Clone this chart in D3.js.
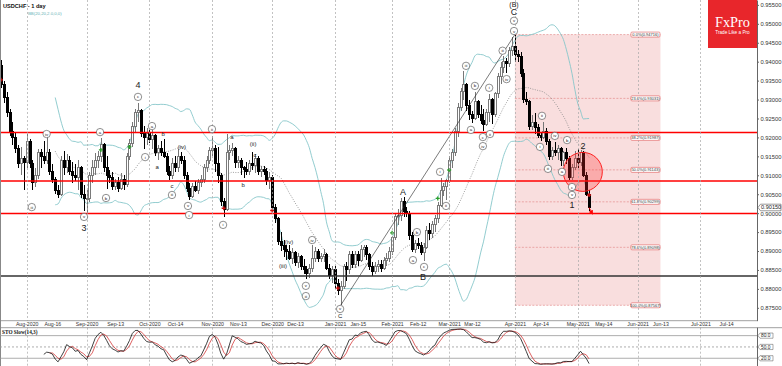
<!DOCTYPE html>
<html><head><meta charset="utf-8">
<script src="https://cdn.jsdelivr.net/npm/d3@7/dist/d3.min.js"></script>
<style>
html,body{margin:0;padding:0;background:#fff;}
svg{display:block;}
</style></head>
<body>
<svg id="chart" width="782" height="366"></svg>
<script>
// ---------------- DATA (USDCHF daily, Jul-21-2020 .. May-07-2021) ----------------
const opens = [
.9390,.9340,.9305,.9265,.9215,.9200,.9170,.9130,.9145,.9135,
.9190,.9130,.9080,.9100,.9160,.9150,.9140,.9160,.9110,.9090,
.9060,.9050,.9140,.9120,.9140,.9110,.9100,.9095,.9120,.9050,
.9040,.9040,.9100,.9120,.9140,.9150,.9180,.9120,.9100,.9095,
.9070,.9080,.9065,.9090,.9075,.9150,.9185,.9230,.9265,.9270,
.9210,.9200,.9210,.9195,.9205,.9160,.9170,.9160,.9150,.9110,
.9100,.9130,.9120,.9150,.9140,.9100,.9065,.9045,.9070,.9060,
.9080,.9090,.9120,.9140,.9165,.9170,.9130,.9100,.9030,.9010,
.9160,.9165,.9170,.9135,.9140,.9120,.9115,.9110,.9130,.9125,
.9145,.9110,.9115,.9110,.9085,.9095,.9015,.8985,.8925,.8915,
.8905,.8900,.8880,.8895,.8870,.8885,.8860,.8850,.8840,.8855,
.8880,.8900,.8880,.8885,.8890,.8855,.8835,.8850,.8815,.8795,
.8805,.8860,.8850,.8890,.8865,.8890,.8875,.8905,.8910,.8890,
.8860,.8845,.8860,.8865,.8855,.8875,.8880,.8900,.8935,.8990,
.8995,.9030,.9005,.9000,.8940,.8905,.8920,.8915,.8895,.8910,
.8955,.8945,.8970,.8985,.9020,.9060,.9070,.9085,.9140,.9160,
.9215,.9280,.9320,.9340,.9285,.9260,.9250,.9295,.9260,.9245,
.9235,.9265,.9300,.9260,.9315,.9360,.9385,.9400,.9395,.9430,
.9440,.9420,.9415,.9370,.9300,.9295,.9230,.9240,.9225,.9205,
.9200,.9215,.9190,.9150,.9165,.9160,.9170,.9140,.9160,.9145,
.9095,.9120,.9145,.9135,.9160,.9100,.9050];
const highs = [
.9405,.9350,.9320,.9275,.9240,.9215,.9180,.9175,.9150,.9210,
.9195,.9140,.9120,.9170,.9170,.9190,.9200,.9170,.9130,.9095,
.9075,.9150,.9165,.9155,.9150,.9135,.9130,.9140,.9125,.9075,
.9060,.9110,.9140,.9160,.9165,.9198,.9185,.9150,.9115,.9110,
.9090,.9095,.9105,.9100,.9160,.9195,.9240,.9275,.9290,.9275,
.9230,.9225,.9220,.9220,.9210,.9180,.9190,.9195,.9160,.9125,
.9145,.9150,.9170,.9162,.9150,.9110,.9080,.9080,.9085,.9090,
.9100,.9130,.9150,.9175,.9205,.9180,.9175,.9105,.9040,.9210,
.9180,.9186,.9175,.9150,.9145,.9125,.9135,.9140,.9162,.9155,
.9150,.9125,.9125,.9120,.9110,.9100,.9025,.8990,.8950,.8930,
.8915,.8915,.8908,.8900,.8895,.8890,.8880,.8860,.8865,.8916,
.8910,.8905,.8895,.8905,.8895,.8865,.8860,.8860,.8825,.8820,
.8865,.8870,.8900,.8900,.8900,.8900,.8915,.8915,.8915,.8895,
.8870,.8870,.8875,.8875,.8885,.8895,.8910,.8940,.9000,.9010,
.9040,.9043,.9015,.9005,.8950,.8930,.8934,.8925,.8920,.8965,
.8975,.8980,.8995,.9030,.9093,.9080,.9090,.9150,.9170,.9225,
.9290,.9330,.9375,.9345,.9300,.9270,.9320,.9300,.9285,.9275,
.9275,.9314,.9305,.9320,.9370,.9400,.9415,.9410,.9440,.9465,
.94716,.9430,.9425,.9380,.9320,.9300,.9260,.9265,.9235,.9215,
.9240,.9225,.9195,.9175,.9188,.9180,.9175,.9165,.9172,.9150,
.9130,.9165,.9170,.9167,.9165,.9110,.9060];
const lows = [
.9330,.9290,.9255,.9205,.9180,.9160,.9120,.9100,.9060,.9120,
.9120,.9060,.9070,.9090,.9120,.9130,.9130,.9100,.9080,.9050,
.9040,.9045,.9100,.9105,.9100,.9080,.9085,.9060,.9040,.9005,
.8999,.9030,.9080,.9100,.9120,.9135,.9110,.9065,.9080,.9060,
.9060,.9055,.9060,.9060,.9070,.9140,.9175,.9215,.9240,.9200,
.9170,.9180,.9185,.9170,.9150,.9140,.9150,.9145,.9100,.9088,
.9090,.9110,.9110,.9130,.9090,.9055,.9035,.9040,.9055,.9050,
.9070,.9080,.9110,.9130,.9150,.9110,.9080,.9020,.8990,.9005,
.9140,.9150,.9120,.9120,.9100,.9093,.9100,.9100,.9115,.9105,
.9100,.9095,.9100,.9075,.9065,.9005,.8975,.8915,.8900,.8885,
.8876,.8875,.8865,.8860,.8855,.8850,.8840,.8826,.8830,.8845,
.8870,.8870,.8870,.8870,.8850,.8825,.8815,.8800,.8785,.87567,
.8800,.8820,.8840,.8855,.8855,.8860,.8870,.8885,.8875,.8850,
.8835,.8840,.8845,.8845,.8850,.8860,.8870,.8890,.8930,.8970,
.8980,.8990,.8990,.8930,.8897,.8895,.8905,.8890,.8874,.8905,
.8930,.8935,.8950,.8975,.9015,.9045,.9035,.9080,.9120,.9150,
.9200,.9270,.9300,.9270,.9245,.9238,.9245,.9250,.9235,.9217,
.9230,.9240,.9235,.9255,.9305,.9340,.9370,.9370,.9385,.9415,
.9400,.9400,.9360,.9290,.9285,.9220,.9220,.9210,.9198,.9190,
.9195,.9180,.9141,.9140,.9150,.9140,.9125,.9125,.9130,.9088,
.9088,.9115,.9120,.9125,.9095,.9045,.9005];
const closes = [
.9340,.9305,.9265,.9215,.9200,.9170,.9130,.9145,.9135,.9190,
.9130,.9080,.9100,.9160,.9150,.9140,.9160,.9110,.9090,.9060,
.9050,.9140,.9120,.9140,.9110,.9100,.9095,.9120,.9050,.9040,
.9040,.9100,.9120,.9140,.9150,.9180,.9120,.9100,.9095,.9070,
.9080,.9065,.9090,.9075,.9150,.9185,.9230,.9265,.9270,.9210,
.9200,.9210,.9195,.9205,.9160,.9170,.9160,.9150,.9110,.9100,
.9130,.9120,.9150,.9140,.9100,.9065,.9045,.9070,.9060,.9080,
.9090,.9120,.9140,.9165,.9170,.9130,.9100,.9030,.9010,.9160,
.9165,.9170,.9135,.9140,.9120,.9115,.9110,.9130,.9125,.9145,
.9110,.9115,.9110,.9085,.9095,.9015,.8985,.8925,.8915,.8905,
.8900,.8880,.8895,.8870,.8885,.8860,.8850,.8840,.8855,.8880,
.8900,.8880,.8885,.8890,.8855,.8835,.8850,.8815,.8795,.8805,
.8860,.8850,.8890,.8865,.8890,.8875,.8905,.8910,.8890,.8860,
.8845,.8860,.8865,.8855,.8875,.8880,.8900,.8935,.8990,.8995,
.9030,.9005,.9000,.8940,.8905,.8920,.8915,.8895,.8910,.8955,
.8945,.8970,.8985,.9020,.9060,.9070,.9085,.9140,.9160,.9215,
.9280,.9320,.9340,.9285,.9260,.9250,.9295,.9260,.9245,.9235,
.9265,.9300,.9260,.9315,.9360,.9385,.9400,.9395,.9430,.9440,
.9420,.9415,.9370,.9300,.9295,.9230,.9240,.9225,.9205,.9200,
.9215,.9190,.9150,.9165,.9160,.9170,.9140,.9160,.9145,.9095,
.9120,.9145,.9135,.9160,.9100,.9050,.9015];

const priceTicks = [0.875,0.880,0.885,0.890,0.895,0.900,0.905,0.910,0.915,0.920,0.925,0.930,0.935,0.940,0.945,0.950,0.955];
const xTickLabels = ["Aug-2020","Aug-16","Sep-2020","Sep-13","Oct-2020","Oct-14","Nov-2020","Nov-13","Dec-2020","Dec-13","Jan-2021","Jan-15","Feb-2021","Feb-12","Mar-2021","Mar-12","Apr-2021","Apr-14","May-2021","May-14","Jun-2021","Jun-13","Jul-2021","Jul-14"];
const xTickBars   = [9,18,30,40,52,61,74,83,95,103,117,125,137,146,157,165,180,189,202,211,223,231,245,254];
const monthStartBars = [9,30,52,74,95,117,137,157,180,202,223,245];

const supportLines = [0.9213, 0.9085, 0.8999];   // red horizontal levels
const blackLine = 0.8834;
const fibRatios = [0.0, 23.6, 38.2, 50.0, 61.8, 78.6, 100.0];
const fibPrices = [0.94716, 0.93031, 0.91987, 0.91143, 0.90299, 0.89098, 0.87567];
const fibStartBar = 180, fibEndBar = 231;
const stoLevels = [80, 50, 20];

// wave labels: [text, bar, price, kind]  kind: c=circled, p=plain small, L=large
const waveLabels = [
["4",48,0.9338,"L"],["c",48,0.9307,"c"],["iii",10.8,0.9016,"c"],["iv",16,0.9209,"c"],
["v",29.1,0.8990,"c"],["3",29.1,0.8961,"L"],["a",34.7,0.9214,"c"],["b",36.8,0.9040,"c"],
["i",50.5,0.9148,"c"],["a",52.9,0.9230,"c"],["b",56.8,0.9209,"p"],["a",54.7,0.9122,"p"],
["(iv)",63.4,0.9175,"p"],["c",59.9,0.9072,"p"],["iii",59.9,0.9048,"c"],["v",65.5,0.9019,"c"],
["i",65.9,0.8995,"c"],["ii",73.9,0.9222,"c"],["i",77.8,0.8969,"c"],["a",80.9,0.9201,"p"],
["b",84.8,0.9074,"p"],["(ii)",88.3,0.9183,"p"],["c",89,0.9154,"p"],["(iv)",100.9,0.8924,"p"],
["(iii)",98.8,0.8860,"p"],["iv",109,0.8929,"c"],["v",106.8,0.8808,"c"],["iii",106.8,0.8781,"c"],
["v",118.8,0.8747,"c"],["C",118.8,0.8728,"p"],["A",140.8,0.9056,"L"],["a",144.3,0.8876,"c"],
["b",145.7,0.8950,"c"],["c",148.2,0.8858,"c"],["B",147.8,0.8831,"L"],["i",153.8,0.9109,"c"],
["ii",155.9,0.9019,"c"],["iii",162.9,0.9389,"c"],["b",166,0.9336,"c"],["a",164.6,0.9220,"c"],
["c",168.8,0.9201,"c"],["iv",168.8,0.9177,"c"],["ii",171.3,0.9209,"c"],["i",171,0.9331,"c"],
["iii",175.7,0.9429,"c"],["iv",177.1,0.9354,"c"],["v",179.7,0.9481,"c"],["v",179.7,0.9508,"c"],
["C",179.7,0.9531,"L"],["(B)",179.7,0.9553,"L"],["ii",189.5,0.9257,"c"],["i",188.8,0.9175,"c"],
["iii",191.6,0.9117,"c"],["iv",194,0.9204,"c"],["b",198.3,0.9193,"c"],["a",196.5,0.9109,"c"],
["c",200,0.9069,"c"],["v",200,0.9048,"c"],["1",200,0.9021,"L"],["2",203.9,0.9177,"L"]];
const greenMarks = [[35,0.9167],[45,0.9175],[137,0.8948],[153,0.9039],[157,0.9114]];
const redMarks = [[0,0.9352],[78,0.9013],[95,0.9007],[118,0.8802],[206,0.9048]];
const trendFrom = [119, 0.87567], trendTo = [180, 0.94716];
const focusCircle = [203.8, 0.9109];
const arrowTo = [207.2, 0.8998];

// ---------------- LAYOUT ----------------
const FONT = "'Liberation Sans', Arial, sans-serif";
const plotR = 757, mainH = 320.7, stoTop = 327.7, stoBot = 366;
const svg = d3.select('#chart');
const x = d3.scaleLinear().domain([0, 265]).range([0.96, 0.96 + 2.855 * 265]);
const y = d3.scaleLinear().domain([0.8716, 0.95629]).range([mainH, 0]);
const ys = d3.scaleLinear().domain([0, 100]).range([365.8, 328.1]);
const N = closes.length;

svg.append('rect').attr('width',782).attr('height',366).attr('fill','#fff');
const defs = svg.append('defs');
defs.append('clipPath').attr('id','cm').append('rect').attr('x',0).attr('y',0).attr('width',plotR).attr('height',mainH);
defs.append('clipPath').attr('id','cs').append('rect').attr('x',0).attr('y',stoTop).attr('width',plotR).attr('height',stoBot-stoTop);
const gm = svg.append('g').attr('clip-path','url(#cm)');

// fib box fill
const fx0 = x(fibStartBar), fx1 = x(fibEndBar);
gm.append('rect').attr('x',fx0).attr('y',y(fibPrices[0])).attr('width',fx1-fx0)
  .attr('height',y(fibPrices[fibPrices.length-1])-y(fibPrices[0])).attr('fill','#f9dede');

// vertical grid
monthStartBars.forEach(b=>{
  const xx = Math.round(x(b))+0.5;
  svg.append('line').attr('x1',xx).attr('x2',xx).attr('y1',0).attr('y2',mainH)
    .attr('stroke','#a8a8a8').attr('stroke-width',0.7).attr('stroke-dasharray','2,2');
  svg.append('line').attr('x1',xx).attr('x2',xx).attr('y1',stoTop).attr('y2',stoBot)
    .attr('stroke','#a8a8a8').attr('stroke-width',0.7).attr('stroke-dasharray','2,2');
});

// fib dashed lines
fibPrices.forEach(p=>{
  gm.append('line').attr('x1',fx0).attr('x2',fx1).attr('y1',y(p)).attr('y2',y(p))
    .attr('stroke','#e08080').attr('stroke-width',0.6).attr('stroke-dasharray','2,1.5');
});

// Bollinger bands (20, 2)
const bbU=[], bbM=[], bbL=[];
for(let i=19;i<N;i++){
  const w = closes.slice(i-19,i+1);
  const m = d3.mean(w);
  const sd = Math.sqrt(d3.mean(w.map(v=>(v-m)*(v-m))));
  bbU.push([i,m+2*sd]); bbM.push([i,m]); bbL.push([i,m-2*sd]);
}
const bline = d3.line().x(d=>x(d[0])).y(d=>y(d[1])).curve(d3.curveMonotoneX);
gm.append('path').attr('d',bline(bbU)).attr('fill','none').attr('stroke','#86c6ca').attr('stroke-width',0.9);
gm.append('path').attr('d',bline(bbL)).attr('fill','none').attr('stroke','#86c6ca').attr('stroke-width',0.9);
gm.append('path').attr('d',bline(bbM)).attr('fill','none').attr('stroke','#888').attr('stroke-width',0.8).attr('stroke-dasharray','1,1.4');

// candles
const gc = gm.append('g').attr('shape-rendering','crispEdges');
for(let i=0;i<N;i++){
  const r = Math.round(x(i));
  const bull = closes[i] >= opens[i];
  gc.append('line').attr('x1',r+0.5).attr('x2',r+0.5).attr('y1',y(highs[i])).attr('y2',y(lows[i]))
    .attr('stroke', bull ? '#777' : '#000').attr('stroke-width',1);
  const top = y(Math.max(opens[i],closes[i])), bot = y(Math.min(opens[i],closes[i]));
  gc.append('rect').attr('x',r-0.5).attr('y',top).attr('width',2).attr('height',Math.max(1,bot-top))
    .attr('fill', bull ? '#fff' : '#000').attr('stroke', bull ? '#7a7a7a' : '#000').attr('stroke-width',1);
}

// trend line
gm.append('line').attr('x1',x(trendFrom[0])).attr('y1',y(trendFrom[1])).attr('x2',x(trendTo[0])).attr('y2',y(trendTo[1]))
  .attr('stroke','#222').attr('stroke-width',0.6);

// horizontal levels
supportLines.forEach(p=>{
  gm.append('line').attr('x1',0).attr('x2',plotR).attr('y1',y(p)).attr('y2',y(p)).attr('stroke','#ff0000').attr('stroke-width',1.6);
});
gm.append('line').attr('x1',0).attr('x2',plotR).attr('y1',y(blackLine)).attr('y2',y(blackLine)).attr('stroke','#333').attr('stroke-width',1.6);

// focus circle
gm.append('circle').attr('cx',x(focusCircle[0])).attr('cy',y(focusCircle[1])).attr('r',19.5)
  .attr('fill','rgba(255,40,40,0.28)').attr('stroke','#ff2020').attr('stroke-width',1);

// arrow
defs.append('marker').attr('id','ah').attr('viewBox','0 0 10 10').attr('refX',8).attr('refY',5)
  .attr('markerWidth',5).attr('markerHeight',5).attr('orient','auto')
  .append('path').attr('d','M0,0L10,5L0,10z').attr('fill','#ff0000');
gm.append('line').attr('x1',x(N-1)).attr('y1',y(closes[N-1])).attr('x2',x(arrowTo[0])).attr('y2',y(arrowTo[1]))
  .attr('stroke','#ff0000').attr('stroke-width',0.9).attr('marker-end','url(#ah)');

// markers
function plus(list,col){
  list.forEach(([b,p])=>{
    const cx=x(b), cy=y(p);
    gm.append('path').attr('d',`M${cx-2},${cy}H${cx+2}M${cx},${cy-2}V${cy+2}`).attr('stroke',col).attr('stroke-width',1.3);
  });
}
plus(greenMarks,'#2aa02a'); plus(redMarks,'#d01010');

// wave labels
const gl = svg.append('g');
waveLabels.forEach(([t,b,p,k])=>{
  const cx=x(b), cy=y(p);
  if(k==='c'){
    gl.append('circle').attr('cx',cx).attr('cy',cy).attr('r',3.7).attr('fill','#fff').attr('stroke','#444').attr('stroke-width',0.6);
    gl.append('text').attr('x',cx).attr('y',cy+1.5).attr('text-anchor','middle').attr('font-size',t.length>2?3.6:4.3)
      .attr('font-family',FONT).attr('fill','#222').text(t);
  } else if(k==='p'){
    gl.append('text').attr('x',cx).attr('y',cy+2).attr('text-anchor','middle').attr('font-size',6)
      .attr('font-family',FONT).attr('fill','#222').text(t);
  } else {
    gl.append('text').attr('x',cx).attr('y',cy+3).attr('text-anchor','middle').attr('font-size',t.length>1?7:9)
      .attr('font-family',FONT).attr('fill','#222').text(t);
  }
});

// fib labels
fibPrices.forEach((p,i)=>{
  const cy=y(p);
  gl.append('rect').attr('x',fx1-29.5).attr('y',cy-2.5).attr('width',29).attr('height',5).attr('rx',1)
    .attr('fill','#fff').attr('stroke','#e05a5a').attr('stroke-width',0.6);
  gl.append('text').attr('x',fx1-15).attr('y',cy+1.4).attr('text-anchor','middle').attr('font-size',4)
    .attr('font-family',FONT).attr('fill','#333').text(`${fibRatios[i].toFixed(1)}%(${p.toFixed(5)})`);
});

// frames
svg.append('line').attr('x1',0.5).attr('x2',0.5).attr('y1',0).attr('y2',stoBot).attr('stroke','#888');
svg.append('line').attr('x1',0).attr('x2',plotR).attr('y1',mainH).attr('y2',mainH).attr('stroke','#888').attr('stroke-width',0.8);
svg.append('line').attr('x1',0).attr('x2',782).attr('y1',stoTop).attr('y2',stoTop).attr('stroke','#888').attr('stroke-width',0.8);

// price axis
const ga = svg.append('g').attr('transform',`translate(${plotR},0)`)
  .call(d3.axisRight(y).tickValues(priceTicks).tickFormat(d=>d.toFixed(5)).tickSize(2).tickSizeOuter(0).tickPadding(1.5));
ga.attr('font-size',5.8).attr('font-family',FONT);
ga.select('.domain').attr('stroke','#666');
ga.selectAll('line').attr('stroke','#666');
ga.selectAll('text').attr('fill','#333');
svg.append('line').attr('x1',plotR+0.5).attr('x2',plotR+0.5).attr('y1',stoTop).attr('y2',stoBot).attr('stroke','#666');

// current price tag
const cpY = y(closes[N-1]);
svg.append('path').attr('d',`M${plotR+1},${cpY}L${plotR+3.5},${cpY-3.3}H${781}V${cpY+3.3}H${plotR+3.5}Z`)
  .attr('fill','#fff').attr('stroke','#555').attr('stroke-width',0.6);
svg.append('text').attr('x',plotR+4).attr('y',cpY+2).attr('font-size',5.6).attr('font-family',FONT).attr('fill','#222').text(closes[N-1].toFixed(5));

// date axis
const gx = svg.append('g').attr('transform',`translate(0,${mainH})`)
  .call(d3.axisBottom(x).tickValues(xTickBars).tickFormat(d=>xTickLabels[xTickBars.indexOf(d)]).tickSize(0).tickPadding(1.6));
gx.attr('font-size',5.2).attr('font-family',FONT);
gx.select('.domain').remove();
gx.selectAll('text').attr('fill','#333');

// title texts
svg.append('text').attr('x',3).attr('y',8).attr('font-size',5.6).attr('font-weight','bold').attr('font-family',FONT).attr('fill','#111').text('USDCHF - 1 day');
svg.append('text').attr('x',28).attr('y',14.5).attr('font-size',4.3).attr('font-family',FONT).attr('fill','#5fb0b4').text('BB(20,20,2.0,0,0)');

// logo
svg.append('rect').attr('x',708).attr('y',0).attr('width',49).attr('height',48).attr('fill','#e8262b');
svg.append('text').attr('x',732.5).attr('y',26.5).attr('text-anchor','middle').attr('font-size',14.3)
  .attr('font-family',"'Liberation Serif', 'Times New Roman', serif").attr('fill','#fff').text('FxPro');
svg.append('text').attr('x',732.5).attr('y',34).attr('text-anchor','middle').attr('font-size',4.7)
  .attr('font-family',FONT).attr('fill','#fff').text('Trade Like a Pro');

// ---------------- STOCHASTIC (14,3,3) ----------------
const raw=[];
for(let i=13;i<N;i++){
  const hh=d3.max(highs.slice(i-13,i+1)), ll=d3.min(lows.slice(i-13,i+1));
  raw[i]=100*(closes[i]-ll)/(hh-ll);
}
const kS=[], dS=[];
for(let i=15;i<N;i++) kS[i]=(raw[i]+raw[i-1]+raw[i-2])/3;
for(let i=17;i<N;i++) dS[i]=(kS[i]+kS[i-1]+kS[i-2])/3;
const gs = svg.append('g').attr('clip-path','url(#cs)');
stoLevels.forEach(l=>{
  gs.append('line').attr('x1',0).attr('x2',plotR).attr('y1',ys(l)).attr('y2',ys(l))
    .attr('stroke','#999').attr('stroke-width',0.8).attr('stroke-dasharray', l===50?'2,2':null);
});
const sl = d3.line().defined(d=>d[1]!=null).x(d=>x(d[0])).y(d=>ys(d[1]));
gs.append('path').attr('d',sl(d3.range(N).map(i=>[i,dS[i]]))).attr('fill','none').attr('stroke','#d43a3a').attr('stroke-width',0.8);
gs.append('path').attr('d',sl(d3.range(N).map(i=>[i,kS[i]]))).attr('fill','none').attr('stroke','#111').attr('stroke-width',0.8);
svg.append('text').attr('x',2).attr('y',333.5).attr('font-size',5.3).attr('font-weight','bold')
  .attr('font-family',"'Liberation Serif', 'Times New Roman', serif").attr('fill','#111').text('STO Slow(14,3)');
stoLevels.forEach(l=>{
  const cy=ys(l);
  svg.append('path').attr('d',`M${plotR+1},${cy}L${plotR+3},${cy-2.6}H${plotR+16}V${cy+2.6}H${plotR+3}Z`)
    .attr('fill','#fff').attr('stroke','#555').attr('stroke-width',0.5);
  svg.append('text').attr('x',plotR+4).attr('y',cy+1.8).attr('font-size',4.8).attr('font-family',FONT).attr('fill','#222').text(l.toFixed(1));
});
</script>
</body></html>
